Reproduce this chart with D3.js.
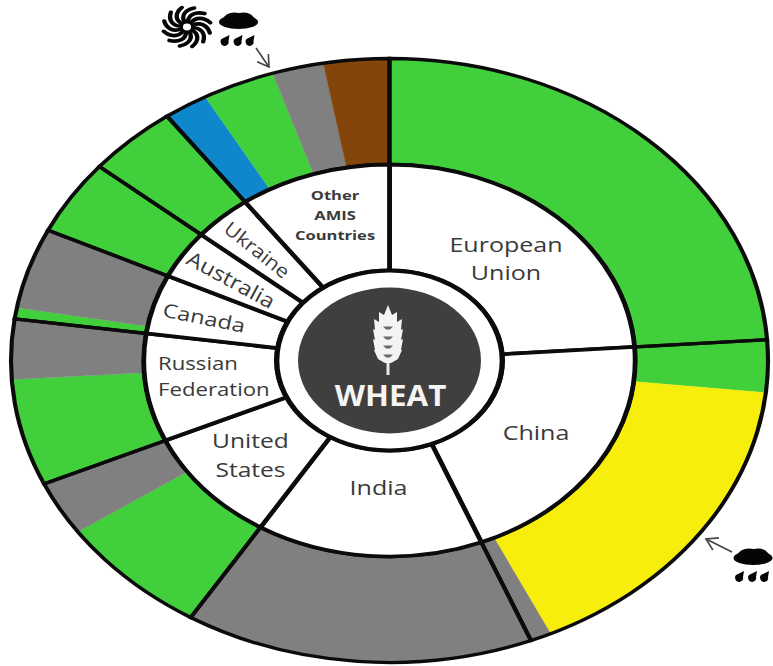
<!DOCTYPE html>
<html>
<head>
<meta charset="utf-8">
<script src="https://d3js.org/d3.v7.min.js"></script>
<style>
  html, body { margin: 0; padding: 0; background: #fff; }
  svg { display: block; }
  text { font-family: "Open Sans", "Noto Sans", sans-serif; }
</style>
</head>
<body>
<svg id="drawing_region"></svg>
<script>
// inner ring, share of production in percent
const countries = ['European Union', 'China', 'India', 'United States', 'Russian Federation',
                   'Canada', 'Australia', 'Ukraine', 'Other AMIS Countries'];
const country_shares = [23.9, 20.0, 14.9, 9.5, 8.9, 4.9, 4.0, 3.9, 10.0];

// outer ring, same order going clockwise from the top
const outer_shares = [23.9, 2.8, 16.3, 0.9, 14.9, 6.6, 2.9, 5.7, 3.2, 0.6, 4.3, 4.0, 3.9, 1.9, 3.1, 2.2, 2.8];
const outer_status = ['good', 'good', 'watch', 'mixed', 'mixed', 'good', 'mixed', 'good', 'mixed',
                      'good', 'mixed', 'good', 'good', 'blue', 'good', 'mixed', 'brown'];

const status_names = ['good', 'watch', 'mixed', 'blue', 'brown'];
const status_colors = ['#41cf3c', '#f7ee0c', '#808080', '#0f87cd', '#84450a'];

const config = {
    width: 773, height: 666,
    cx: 389.5, cy: 360.5,
    stretch: 378.5 / 302,   // the whole picture is stretched sideways
    outer: 302, middle: 196, hub: 90, core: 73
};

const color = d3.scaleOrdinal().domain(status_names).range(status_colors);

const svg = d3.select('#drawing_region')
    .attr('width', config.width)
    .attr('height', config.height);

const wheel = svg.append('g')
    .attr('transform', `translate(${config.cx},${config.cy}) scale(${config.stretch},1)`);

const pie = d3.pie().sort(null).value(d => d);
const outer_arc = d3.arc().innerRadius(config.middle).outerRadius(config.outer);
const inner_arc = d3.arc().innerRadius(config.hub).outerRadius(config.middle);

// coloured cells, no borders
wheel.selectAll('path.cell')
    .data(pie(outer_shares))
    .enter()
    .append('path')
    .attr('class', 'cell')
    .attr('d', outer_arc)
    .attr('fill', (d, i) => color(outer_status[i]))
    .attr('stroke', (d, i) => color(outer_status[i]))
    .attr('stroke-width', 0.3);

// country borders on the outer ring
wheel.selectAll('path.border')
    .data(pie(country_shares))
    .enter()
    .append('path')
    .attr('class', 'border')
    .attr('d', outer_arc)
    .attr('fill', 'none')
    .attr('stroke', '#0b0b0b')
    .attr('stroke-width', 3.3);

// white country cells
wheel.selectAll('path.country')
    .data(pie(country_shares))
    .enter()
    .append('path')
    .attr('class', 'country')
    .attr('d', inner_arc)
    .attr('fill', '#fff')
    .attr('stroke', '#0b0b0b')
    .attr('stroke-width', 3.8);

// hub
wheel.append('circle')
    .attr('r', config.hub)
    .attr('fill', '#fff')
    .attr('stroke', '#0b0b0b')
    .attr('stroke-width', 4.2);

wheel.append('circle')
    .attr('r', config.core)
    .attr('fill', '#3f3f3f');

// country labels, placed by hand like the original
const labels = [
    {lines: ['European', 'Union'], x: 506, y: 245, size: 20, gap: 28},
    {lines: ['China'], x: 536, y: 433, size: 20},
    {lines: ['India'], x: 378.5, y: 488, size: 20},
    {lines: ['United', 'States'], x: 250.5, y: 441, size: 19.6, gap: 29},
    {lines: ['Russian', 'Federation'], x: 158, y: 364, size: 17.7, gap: 26, anchor: 'start'},
    {lines: ['Canada'], x: 204, y: 318, size: 19, rotate: 11.5, sx: 1.25},
    {lines: ['Australia'], x: 231, y: 280, size: 20.5, rotate: 28.5, sx: 1.15},
    {lines: ['Ukraine'], x: 257, y: 250, size: 19, rotate: 38.7, sx: 1.12},
    {lines: ['Other', 'AMIS', 'Countries'], x: 335, y: 195, size: 13.2, gap: 20, weight: 700}
];

const label_g = svg.selectAll('g.label')
    .data(labels)
    .enter()
    .append('g')
    .attr('class', 'label')
    .attr('transform', d => `translate(${d.x},${d.y}) rotate(${d.rotate || 0}) scale(${d.sx || config.stretch},1)`);

label_g.selectAll('text')
    .data(d => d.lines.map((line, i) => ({line: line, i: i, d: d})))
    .enter()
    .append('text')
    .attr('text-anchor', e => e.d.anchor || 'middle')
    .attr('dy', '0.35em')
    .attr('y', e => e.i * (e.d.gap || 0))
    .attr('fill', '#3a3a3a')
    .style('font-size', e => e.d.size + 'px')
    .style('font-weight', e => e.d.weight || 400)
    .text(e => e.line);

svg.append('text')
    .attr('transform', 'translate(390.5,406) scale(1.12,1)')
    .attr('text-anchor', 'middle')
    .attr('fill', '#f4f4f4')
    .style('font-size', '28px')
    .style('font-weight', 700)
    .text('WHEAT');

// wheat ear
const ear = svg.append('g').attr('transform', 'translate(388,0)');
ear.append('rect').attr('x', -1.5).attr('y', 358).attr('width', 3).attr('height', 17).attr('fill', '#e8e8e8');
ear.append('path')
    .attr('fill', '#f4f4f4')
    .attr('d', 'M0,305 L4,315 L9,312 L9,322 L14,319 L13,330 L15,329 L13,340 L15,339 L13,350 L14,350 '
        + 'L10,359 L3,363 L-3,363 L-10,359 L-14,350 L-13,350 L-15,339 L-13,340 L-15,329 L-13,330 '
        + 'L-14,319 L-9,322 L-9,312 L-4,315 Z');
[328, 338, 347, 356].forEach(y => {
    ear.append('path')
        .attr('fill', '#6a6a6a')
        .attr('d', `M-5,${y - 1.5} L5,${y - 1.5} L2,${y + 1.5} L-2,${y + 1.5} Z`);
});

// weather icons
function rain_cloud(x, y) {
    const g = svg.append('g').attr('transform', `translate(${x},${y})`).attr('fill', '#050505');
    g.append('ellipse').attr('cx', 0).attr('cy', 1).attr('rx', 19.5).attr('ry', 7);
    g.append('ellipse').attr('cx', -4).attr('cy', -2).attr('rx', 11).attr('ry', 6.5);
    g.append('ellipse').attr('cx', 5).attr('cy', -1).attr('rx', 11).attr('ry', 7.5);
    [-13, 0, 12].forEach(dx => {
        g.append('path').attr('d', `M${dx + 4},14 L${dx - 2},17 A4,4 0 1 0 ${dx + 3},20 Z`);
    });
}
rain_cloud(238.5, 21);
rain_cloud(753, 557);

// hurricane
const storm = svg.append('g').attr('transform', 'translate(187,27) scale(1.2,1)');
d3.range(12).forEach(i => {
    storm.append('path')
        .attr('d', 'M-2,-5 C-5,-11 -2,-17 6,-19')
        .attr('fill', 'none')
        .attr('stroke', '#050505')
        .attr('stroke-width', 3.6)
        .attr('stroke-linecap', 'round')
        .attr('transform', `rotate(${i * 30})`);
});
storm.append('circle').attr('r', 5.5).attr('fill', '#050505');
storm.append('circle').attr('r', 3.4).attr('fill', '#fff');

// arrows
function arrow(x1, y1, x2, y2) {
    const a = Math.atan2(y2 - y1, x2 - x1), len = 13, spread = 0.55;
    const g = svg.append('g').attr('fill', 'none').attr('stroke', '#444').attr('stroke-width', 1.6);
    g.append('line').attr('x1', x1).attr('y1', y1).attr('x2', x2).attr('y2', y2);
    g.append('path').attr('d', d3.line()([
        [x2 - len * Math.cos(a - spread), y2 - len * Math.sin(a - spread)],
        [x2, y2],
        [x2 - len * Math.cos(a + spread), y2 - len * Math.sin(a + spread)]
    ]));
}
arrow(256, 48, 269, 67);
arrow(732, 552, 706, 539);
</script>
</body>
</html>
